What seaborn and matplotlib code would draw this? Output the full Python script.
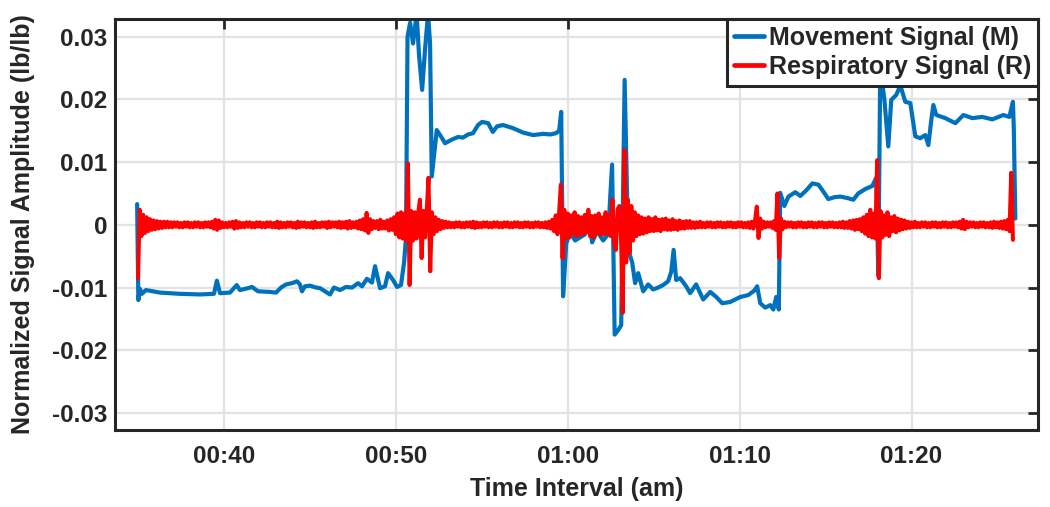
import numpy as np
import pandas as pd
import matplotlib
matplotlib.use('Agg')
import matplotlib.pyplot as plt
import seaborn as sns

# movement signal: time in minutes after midnight, amplitude in lb/lb
move_t = [34.95, 35.02, 35.11, 35.23, 35.46, 36.27, 37.44, 38.60, 39.42, 39.59,
          39.77, 40.35, 40.74, 40.93, 41.40, 41.63, 41.98, 42.68, 43.03, 43.32,
          43.61, 43.96, 44.25, 44.42, 44.54, 44.71, 45.01, 45.36, 45.59, 46.17,
          46.40, 46.75, 47.10, 47.45, 47.80, 48.03, 48.32, 48.61, 48.79, 49.08,
          49.37, 49.55, 49.84, 50.07, 50.30, 50.48, 50.59, 50.68, 50.83, 51.00,
          51.21, 51.35, 51.53, 51.70, 51.87, 51.99, 52.09, 52.22, 52.38, 52.69,
          52.86, 53.27, 53.62, 53.91, 54.20, 54.49, 54.78, 55.02, 55.37, 55.64,
          55.89, 56.24, 56.82, 57.40, 57.99, 58.57, 58.98, 59.32, 59.50, 59.62,
          59.73, 59.91, 60.14, 60.43, 60.72, 61.01, 61.19, 61.42, 61.71, 62.06,
          62.35, 62.58, 62.73, 62.93, 63.11, 63.31, 63.52, 63.75, 63.92, 64.10,
          64.39, 64.68, 64.97, 65.26, 65.55, 65.84, 66.02, 66.16, 66.31, 66.54,
          66.89, 67.12, 67.47, 67.88, 68.29, 68.64, 68.99, 69.45, 70.04, 70.50,
          70.85, 71.02, 71.20, 71.49, 71.78, 71.96, 72.13, 72.28, 72.36, 72.60,
          72.84, 73.24, 73.53, 73.88, 74.23, 74.58, 74.87, 75.16, 75.51, 75.86,
          76.21, 76.62, 76.90, 77.31, 77.72, 77.95, 78.07, 78.18, 78.42, 78.65,
          78.82, 79.11, 79.35, 79.64, 79.93, 80.22, 80.51, 80.80, 80.98, 81.15,
          81.27, 81.44, 81.97, 82.55, 83.02, 83.54, 84.12, 84.70, 85.34, 85.69,
          85.90, 85.95, 86.04]
move_v = [0.0033, -0.0120, -0.0102, -0.0110, -0.0104, -0.0108, -0.0110, -0.0111, -0.0110, -0.0089,
          -0.0109, -0.0108, -0.0096, -0.0104, -0.0101, -0.0099, -0.0106, -0.0107, -0.0108, -0.0100,
          -0.0095, -0.0093, -0.0090, -0.0095, -0.0106, -0.0098, -0.0097, -0.0100, -0.0101, -0.0111,
          -0.0100, -0.0104, -0.0099, -0.0100, -0.0093, -0.0098, -0.0086, -0.0092, -0.0066, -0.0101,
          -0.0098, -0.0077, -0.0088, -0.0099, -0.0096, -0.0060, -0.0020, 0.0300, 0.0322, 0.0289,
          0.0336, 0.0270, 0.0215, 0.0280, 0.0336, 0.0290, 0.0077, 0.0110, 0.0151, 0.0138,
          0.0130, 0.0136, 0.0140, 0.0139, 0.0144, 0.0146, 0.0159, 0.0164, 0.0162, 0.0148,
          0.0157, 0.0159, 0.0154, 0.0147, 0.0143, 0.0145, 0.0144, 0.0146, 0.0150, 0.0180,
          -0.0114, -0.0030, -0.0012, -0.0025, -0.0020, -0.0015, 0.0018, -0.0028, -0.0010, -0.0025,
          -0.0015, 0.0096, -0.0175, -0.0168, -0.0160, 0.0231, -0.0040, -0.0060, -0.0093, -0.0077,
          -0.0106, -0.0095, -0.0103, -0.0100, -0.0096, -0.0090, -0.0075, -0.0040, -0.0088, -0.0085,
          -0.0098, -0.0109, -0.0095, -0.0119, -0.0107, -0.0115, -0.0125, -0.0123, -0.0115, -0.0112,
          -0.0105, -0.0098, -0.0125, -0.0132, -0.0128, -0.0135, -0.0115, -0.0135, 0.0051, 0.0030,
          0.0045, 0.0052, 0.0046, 0.0055, 0.0066, 0.0064, 0.0053, 0.0041, 0.0044, 0.0045,
          0.0043, 0.0040, 0.0050, 0.0057, 0.0062, 0.0075, -0.0081, 0.0250, 0.0200, 0.0125,
          0.0199, 0.0207, 0.0222, 0.0196, 0.0194, 0.0141, 0.0138, 0.0143, 0.0127, 0.0167,
          0.0191, 0.0175, 0.0170, 0.0162, 0.0175, 0.0170, 0.0172, 0.0168, 0.0175, 0.0172,
          0.0196, 0.0154, 0.0010]

# respiratory signal: one sample every 0.1 min from 00:35, amplitude in 1e-4 lb/lb
resp_start = 35.0
resp_step = 0.1
resp_e4 = [-85, 24, -18, 16, -13, 12, -10, 9, -8, 7,
           -7, 6, -6, 5, -5, 5, -4, 5, -4, 4,
           -4, 4, -3, 4, -4, 3, -4, 4, -3, 4,
           -4, 3, -4, 4, -3, 4, -4, 3, -4, 4,
           -3, 4, -4, 5, -6, 8, -8, 7, -5, 4,
           -4, 3, -4, 4, -3, 5, -6, 6, -5, 4,
           -4, 3, -4, 4, -3, 4, -4, 3, -4, 4,
           -3, 4, -4, 3, -4, 4, -3, 4, -4, 3,
           -4, 5, -5, 4, -4, 3, -4, 4, -3, 4,
           -4, 3, -5, 5, -4, 4, -3, 4, -4, 3,
           -4, 4, -5, 5, -4, 3, -4, 4, -3, 4,
           -5, 5, -4, 4, -3, 4, -4, 5, -5, 4,
           -4, 5, -6, 6, -5, 4, -4, 5, -6, 7,
           -7, 9, -9, 19, -13, 9, -7, 6, -5, 6,
           -7, 8, -6, 5, -6, 7, -9, 9, -8, 12,
           -15, 18, -20, 20, -22, 18, -25, 98, -96, 22,
           -25, 20, -22, 18, 40, -53, 22, -20, 25, 75,
           -74, 20, -15, 12, -10, 8, -7, 6, -5, 5,
           -4, 4, -4, 3, -4, 4, -3, 4, -4, 3,
           -4, 4, -3, 4, -4, 5, -5, 4, -4, 3,
           -4, 4, -3, 4, -4, 3, -4, 4, -3, 4,
           -4, 3, -4, 4, -3, 4, -4, 3, -4, 4,
           -3, 4, -4, 3, -4, 4, -3, 4, -4, 3,
           -4, 4, -3, 4, -4, 3, -4, 4, -5, 5,
           -6, 8, -10, 15, -15, 20, 64, -53, 24, -22,
           18, -20, 15, -14, 20, -18, 14, -16, 12, -15,
           16, -12, 24, -18, 14, -20, 15, -13, 18, -16,
           12, -15, 20, -14, 16, -18, 40, -30, -40, 25,
           30, -20, -140, 119, -60, 40, -45, 30, -25, 20,
           -18, 15, -15, 12, -14, 10, -12, 12, -10, 9,
           -10, 12, -9, 8, -10, 9, -7, 10, -8, 7,
           -8, 9, -7, 6, -8, 7, -6, 5, -6, 6,
           -5, 6, -5, 4, -5, 4, -4, 5, -4, 3,
           -4, 4, -3, 4, -4, 3, -4, 4, -3, 4,
           -4, 3, -4, 4, -3, 4, -4, 3, -4, 4,
           -3, 4, -4, 3, -4, 4, -5, 5, -6, 8,
           29, -21, 10, -6, 5, -4, 4, -3, 4, -5,
           6, -8, 50, -53, 10, -7, 5, -4, 4, -3,
           4, -4, 3, -4, 4, -3, 4, -4, 3, -4,
           4, -3, 4, -4, 3, -4, 4, -3, 4, -4,
           3, -4, 4, -3, 4, -4, 3, -4, 4, -4,
           5, -5, 4, -5, 6, -6, 7, -8, 8, -7,
           9, -10, 12, -14, 16, -18, 24, -20, 18, -22,
           103, -85, 22, -20, 15, -16, 20, -18, 12, -10,
           14, -12, 10, -9, 8, -7, 7, -6, 5, -5,
           4, -4, 5, -4, 3, -4, 4, -3, 4, -4,
           3, -4, 4, -3, 4, -4, 3, -4, 4, -3,
           4, -4, 3, -4, 4, -3, 4, -4, 5, -6,
           8, -7, 5, -4, 4, -3, 4, -4, 3, -4,
           4, -3, 4, -4, 3, -4, 4, -5, 5, -4,
           4, -5, 5, -6, 6, -7, 8, -10, 83, -24]

x_ticks = [40, 50, 60, 70, 80]
x_labels = ['00:40', '00:50', '01:00', '01:10', '01:20']
y_ticks = [-0.03, -0.02, -0.01, 0, 0.01, 0.02, 0.03]
y_labels = ['-0.03', '-0.02', '-0.01', '0', '0.01', '0.02', '0.03']

BLUE = '#0072BD'
RED = '#FF0000'
DARK = '#262626'


def main():
    sns.set_style('white')
    plt.rcParams['font.family'] = ['Liberation Sans', 'DejaVu Sans']
    plt.rcParams['font.weight'] = 'bold'

    move = pd.DataFrame({'t': move_t, 'v': move_v})
    resp = pd.DataFrame({'t': resp_start + resp_step * np.arange(len(resp_e4)),
                         'v': np.array(resp_e4) * 1e-4})

    fig = plt.figure(figsize=(10.5, 5.07), dpi=100)
    ax = fig.add_axes([0.1095, 0.1519, 0.8791, 0.8106])

    sns.lineplot(data=move, x='t', y='v', ax=ax, color=BLUE, lw=3.0,
                 sort=False, estimator=None, label='Movement Signal (M)')
    sns.lineplot(data=resp, x='t', y='v', ax=ax, color=RED, lw=2.9,
                 sort=False, estimator=None, label='Respiratory Signal (R)')

    ax.set_xlim(33.66, 87.36)
    ax.set_ylim(-0.0327, 0.0328)
    ax.set_xticks(x_ticks)
    ax.set_xticklabels(x_labels)
    ax.set_yticks(y_ticks)
    ax.set_yticklabels(y_labels)

    ax.grid(True, color='#E3E3E3', lw=1.6)
    ax.set_axisbelow(True)
    for s in ax.spines.values():
        s.set_visible(True)
        s.set_color(DARK)
        s.set_linewidth(2.2)
    ax.tick_params(direction='in', length=7, width=2, color=DARK,
                   top=True, right=True, labelsize=17.5, labelcolor=DARK)
    ax.tick_params(axis='x', pad=11)
    ax.tick_params(axis='y', pad=5.5)

    ax.set_xlabel('Time Interval (am)', fontsize=18, fontweight='bold', color=DARK, labelpad=6)
    ax.set_ylabel('Normalized Signal Amplitude (lb/lb)', fontsize=18, fontweight='bold',
                  color=DARK, labelpad=12)

    leg = ax.legend(loc='upper right', borderaxespad=0, frameon=True, fancybox=False,
                    framealpha=1, edgecolor=DARK, fontsize=18, handlelength=1.2,
                    handletextpad=0.2, labelspacing=0.2, borderpad=0.28)
    leg.get_frame().set_linewidth(2.2)
    for h in leg.get_lines():
        h.set_linewidth(3.4)

    fig.savefig('out.png', dpi=100)
    plt.close(fig)


if __name__ == '__main__':
    main()
